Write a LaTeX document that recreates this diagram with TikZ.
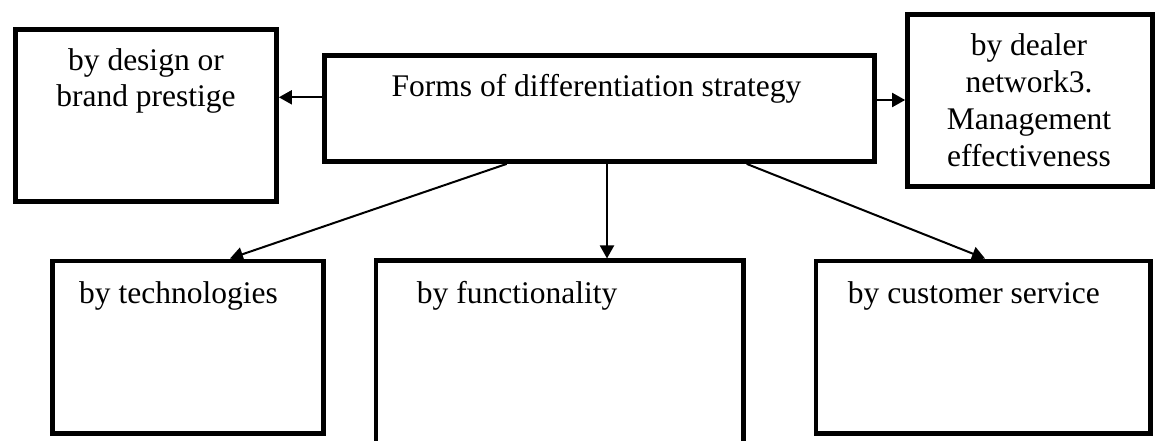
\documentclass[tikz,border=0pt]{standalone}
\usepackage{fontspec}
\setmainfont{Liberation Serif}
\usetikzlibrary{arrows.meta}
\begin{document}
\begin{tikzpicture}[x=1pt,y=-1pt,
  box/.style={draw, line width=4.7pt, inner sep=0pt},
  arr/.style={line width=2pt, -{Triangle[length=13pt,width=14pt]}},
  lbl/.style={inner sep=0pt, font=\fontsize{31.5}{36}\selectfont}]
\useasboundingbox (0,0) rectangle (1157,441);
\clip (0,0) rectangle (1157,441);
% boxes
\node[box, minimum width=261pt, minimum height=172pt] (L) at (146,115.5) {};
\node[box, minimum width=550.3pt, minimum height=105.7pt] (C) at (599.3,108.7) {};
\node[box, minimum width=245pt, minimum height=172.6pt] (R) at (1030,100.5) {};
\node[box, minimum width=271pt, minimum height=172.7pt] (B1) at (188,347.2) {};
\node[box, minimum width=367.7pt, minimum height=209.2pt] (B2) at (559.7,365.4) {};
\node[box, minimum width=334.7pt, minimum height=172.7pt] (B3) at (983.2,347.2) {};
% texts
\node[lbl, align=center, anchor=base] (Lt) at (146,107) {by design or\\brand prestige};
\node[lbl, anchor=base] (Ct) at (596.5,96.7) {Forms of differentiation strategy};
\node[lbl, align=center, anchor=base, font=\fontsize{31.5}{37.3}\selectfont] (Rt) at (1029,167) {by dealer\\network3.\\Management\\effectiveness};
\node[lbl, anchor=base west] (B1t) at (79,303) {by technologies};
\node[lbl, anchor=base west] (B2t) at (416.7,303) {by functionality};
\node[lbl, anchor=base west] (B3t) at (847.7,303) {by customer service};
% connectors
\draw[arr] (C.west |- 0,97.3) -- (L.east |- 0,97.3);
\draw[arr] (C.east |- 0,100) -- (R.west |- 0,100);
\draw[arr] (C.south -| 607,0) -- (B2.north -| 607,0);
\draw[arr] (C.south -| 506.7,0) -- (B1.north -| 230,0);
\draw[arr] (C.south -| 746.7,0) -- (B3.north -| 985,0);
\end{tikzpicture}
\end{document}
